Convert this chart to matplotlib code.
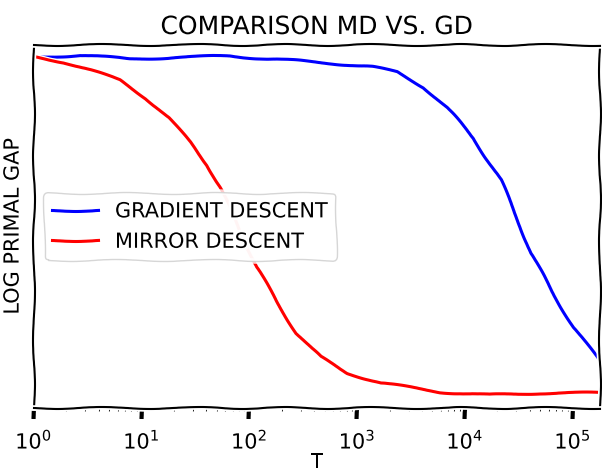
import matplotlib
matplotlib.use("Agg")
import matplotlib.pyplot as plt

# iteration count T (log axis) and log primal gap
gd_T = [1.2, 2.7, 7.8, 23, 66, 565, 1400, 2350, 4150, 6900, 12000,
        21500, 33000, 41000, 63000, 102000, 174000]
gd_gap = [35.3, 35.5, 35.1, 35.3, 35.4, 34.7, 34.3, 33.8, 32.3, 30.2,
          27.2, 23.0, 18.3, 15.7, 12.0, 8.3, 5.0]

md_T = [1.07, 1.9, 3.8, 6.3, 11, 18, 28, 41, 54, 117, 182, 275, 457,
        813, 1660, 5900, 17000, 50000, 182000]
md_gap = [35.3, 34.8, 33.8, 33.0, 31.2, 29.2, 26.8, 24.5, 22.2, 14.3,
          10.7, 7.7, 5.3, 3.7, 2.7, 1.8, 1.5, 1.7, 1.7]

labels = ["GRADIENT DESCENT", "MIRROR DESCENT"]

with plt.xkcd():
    plt.rcParams['font.family'] = ['DejaVu Sans']
    fig = plt.figure(figsize=(6.02, 4.75), dpi=100)
    ax = fig.add_axes([0.056, 0.141, 0.941, 0.764])

    ax.plot(gd_T, gd_gap, color='blue', lw=2.2, label=labels[0])
    ax.plot(md_T, md_gap, color='red', lw=2.2, label=labels[1])

    ax.set_xscale('log')
    ax.set_xlim(1, 1.8e5)
    ax.set_ylim(0.2, 36.5)
    ax.set_yticks([])
    ax.tick_params(axis='x', labelsize=15, pad=6)

    ax.set_title("COMPARISON MD VS. GD", fontsize=18, pad=8)
    ax.set_xlabel("T", fontsize=14, labelpad=0)
    ax.set_ylabel("LOG PRIMAL GAP", fontsize=15, labelpad=8)
    ax.legend(loc='center left', fontsize=15, bbox_to_anchor=(0.0, 0.5),
              handlelength=2.2)

    fig.savefig("out.png", dpi=100)
